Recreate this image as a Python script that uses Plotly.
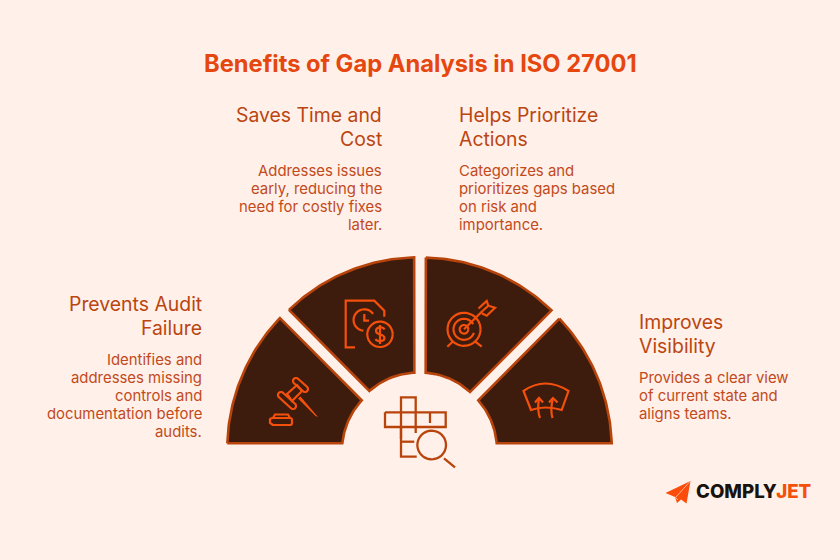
import numpy as np
import plotly.graph_objects as go

# wedge geometry: angles in degrees, radii in px around the hub
hub_x, hub_y = 420, 443.3
outer_a0 = [180, 134.5, 88.2, 41.8]
outer_a1 = [138.2, 91.8, 45.3, 0]
outer_r0 = [192.7, 187, 185.8, 187]
outer_r1 = [187.9, 186, 187, 191.7]
inner_a0 = [143.6, 94.6, 45.7, 0]
inner_a1 = [180, 134.1, 85.4, 36.4]
inner_r0 = [72.4, 70.8, 71.6, 76.7]
inner_r1 = [77.7, 72.8, 70.8, 72.4]

title = "Benefits of Gap Analysis in ISO 27001"
headings = [
    ["Prevents Audit", "Failure"],
    ["Saves Time and", "Cost"],
    ["Helps Prioritize", "Actions"],
    ["Improves", "Visibility"],
]
bodies = [
    ["Identifies and", "addresses missing", "controls and", "documentation before", "audits."],
    ["Addresses issues", "early, reducing the", "need for costly fixes", "later."],
    ["Categorizes and", "prioritizes gaps based", "on risk and", "importance."],
    ["Provides a clear view", "of current state and", "aligns teams."],
]
block_x = [203, 383, 458, 638]
block_side = ["right", "right", "left", "left"]
heading_y = [304, 115, 115, 322]
body_y = [360, 171, 171, 378]

BG = "#FFF1E9"
DARK = "#3D1C0E"
EDGE = "#B8440C"
ICON = "#F4500C"
TITLE_C = "#E5470F"
HEAD_C = "#BB4511"
BODY_C = "#C24A1C"
FONT = "Inter"


def arc(cx, cy, r, a0, a1, n=40):
    t = np.radians(np.linspace(a0, a1, n))
    return list(zip(cx + r * np.cos(t), cy - r * np.sin(t)))


def poly(pts, close=False):
    s = "M " + " L ".join(f"{x:.1f},{y:.1f}" for x, y in pts)
    return s + (" Z" if close else "")


def capsule(x0, y0, x1, y1, r):
    a = np.degrees(np.arctan2(-(y1 - y0), x1 - x0))
    return poly(arc(x0, y0, r, a + 90, a + 270, 12) + arc(x1, y1, r, a - 90, a + 90, 12), True)


fig = go.Figure()

# wedges
for i in range(4):
    t_out = np.radians(np.linspace(outer_a0[i], outer_a1[i], 50))
    r_out = np.linspace(outer_r0[i], outer_r1[i], 50)
    t_in = np.radians(np.linspace(inner_a0[i], inner_a1[i], 30))
    r_in = np.linspace(inner_r0[i], inner_r1[i], 30)
    xs = np.r_[hub_x + r_out * np.cos(t_out), hub_x + r_in * np.cos(t_in)]
    ys = np.r_[hub_y - r_out * np.sin(t_out), hub_y - r_in * np.sin(t_in)]
    fig.add_trace(go.Scatter(x=np.r_[xs, xs[0]], y=np.r_[ys, ys[0]], mode="lines", fill="toself",
                             fillcolor=DARK, line=dict(color=EDGE, width=2.6), hoverinfo="skip", showlegend=False))

# icons, all strokes in page pixels
icon_paths = [
    # document + clock + dollar
    poly([(355, 347.3), (345.7, 347.3), (345.7, 300.7), (374.3, 300.7), (384.3, 310.7), (384.3, 316.7)]),
    poly(arc(364.3, 320, 10.7, 35, 265)),
    poly([(364.3, 314), (364.3, 320.7), (369, 320.7)]),
    poly(arc(380, 334.3, 12.7, 0, 360)),
    "M 384.5,329.5 C 383,326.5 376,326.5 376,331 C 376,335.5 384.5,333.5 384.5,338 C 384.5,342 377,342 375.5,339",
    poly([(380, 325), (380, 344)]),
    # target
    poly(arc(464, 329.3, 16.5, 0, 360)),
    poly(arc(464, 329.3, 10.5, 30, 340)),
    poly(arc(464, 329.3, 4.3, 0, 360)),
    poly([(464, 329.3), (483, 310.5)]),
    poly([(478.5, 308.5), (486.7, 301), (488.3, 305.7), (495, 307.7), (486.7, 315.7), (481.7, 313.3)]),
    poly([(483, 310.5), (488.3, 305.7)]),
    poly([(452.7, 341.7), (447.3, 346.7)]),
    poly([(475.3, 341.7), (481.7, 346.7)]),
    # gavel
    capsule(281, 395, 293, 406, 3),
    capsule(296, 381, 305, 389, 3),
    poly([(287, 394), (297, 385), (302, 391), (292, 401)], True),
    "M 273,425 L 270,423 L 270,419.5 Q 270,418 273,418 L 290,418 Q 292,418 292,420 L 292,423 Q 292,425 290,425 Z",
    poly([(273, 418), (275, 414.5), (288, 414.5), (290, 418)]),
    # windshield + heat arrows
    "M 523.5,391 Q 545,376 568.5,391 L 561.7,410 Q 545,405 531,410 Z",
    "M 540,418 Q 537,410 539,398",
    "M 552.5,418 Q 550,410 553,398",
    poly([(535, 402.5), (539, 398), (543, 402.5)]),
    poly([(549, 402.5), (553, 398), (557.5, 402.5)]),
]
for p in icon_paths:
    fig.add_shape(type="path", path=p, line=dict(color=ICON, width=2.2), layer="above")

# gavel handle is a solid taper
fig.add_shape(type="path", path=poly([(298, 398.5), (300.5, 396.5), (318, 417), (315.5, 416)], True),
              fillcolor=ICON, line=dict(width=0), layer="above")

# crossword + magnifier in the hub
hub_paths = [
    poly([(401, 439), (401, 397.3), (415.7, 397.3), (415.7, 433)]),
    poly([(385, 412.3), (445.7, 412.3), (445.7, 427), (385, 427), (385, 412.3)]),
    poly([(430, 412.3), (430, 423)]),
    poly([(401, 427), (401, 456.7), (416.7, 456.7)]),
    poly([(401, 441.7), (414.3, 441.7)]),
    poly(arc(431.7, 445, 14.3, 0, 360)),
    poly([(444, 458.3), (455, 467.3)]),
]
for p in hub_paths:
    fig.add_shape(type="path", path=p, line=dict(color=EDGE, width=2.3), layer="above")

# logo plane
fig.add_shape(type="path", path=poly([(690.5, 481), (665.5, 493), (675, 497), (677, 503), (681, 499.5), (686.5, 503.5)], True),
              fillcolor="#FB4C0C", line=dict(width=0), layer="above")
fig.add_shape(type="path", path=poly([(690, 481.5), (675.5, 497.5), (678, 500)]), line=dict(color="#FFE0CF", width=0.7), layer="above")


def label(x, y, text, size, color, anchor="left", weight=400):
    fig.add_annotation(x=x, y=y, text=text, showarrow=False, xanchor=anchor, yanchor="middle", borderpad=0,
                       font=dict(family=FONT, size=size, color=color, weight=weight))


label(420, 63, title, 23.7, TITLE_C, "center", 700)
for i in range(4):
    for j, line in enumerate(headings[i]):
        label(block_x[i], heading_y[i] + j * 24, line, 19.4, HEAD_C, block_side[i])
    for j, line in enumerate(bodies[i]):
        label(block_x[i], body_y[i] + j * 18, line, 14.9, BODY_C, block_side[i])

label(695, 491, 'COMPLY<span style="color:#F4500C">JET</span>', 18.7, "#17130F", "left", 800)

fig.update_xaxes(range=[0, 840], visible=False, fixedrange=True)
fig.update_yaxes(range=[560, 0], visible=False, fixedrange=True)
fig.update_layout(width=840, height=560, margin=dict(l=0, r=0, t=0, b=0), plot_bgcolor=BG, paper_bgcolor=BG, showlegend=False)

# the page's default body margin would shift the whole picture by 8px
fig.write_html("out.html", config=dict(displayModeBar=False), post_script="document.body.style.margin='0';")
